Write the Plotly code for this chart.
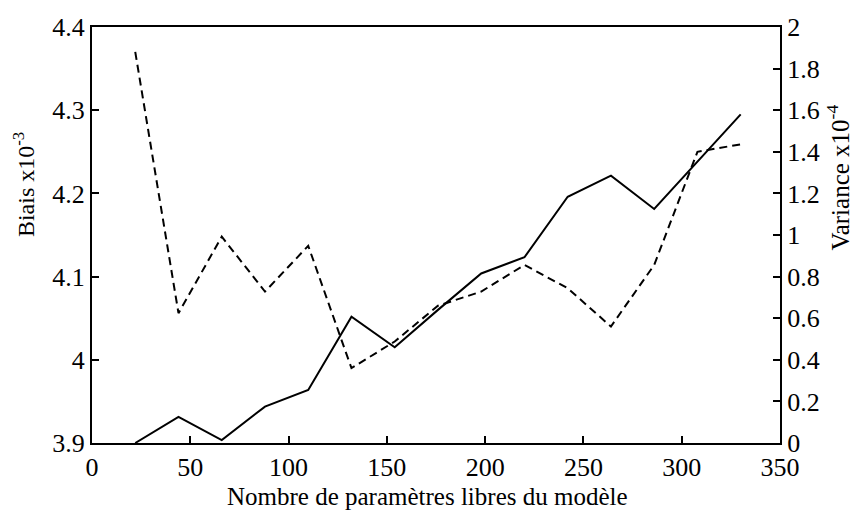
import plotly.graph_objects as go

# Data
n_params = [22, 44, 66, 88, 110, 132, 154, 176, 198, 220, 242, 264, 286, 308, 330]
biais = [4.370, 4.056, 4.148, 4.082, 4.137, 3.990, 4.022, 4.065, 4.082, 4.114,
         4.086, 4.040, 4.114, 4.250, 4.259]
variance = [0.0, 0.126, 0.014, 0.175, 0.255, 0.607, 0.46, 0.64, 0.815, 0.893,
            1.184, 1.285, 1.125, 1.35, 1.58]

x_ticks = [0, 50, 100, 150, 200, 250, 300, 350]
left_ticks = [3.9, 4.0, 4.1, 4.2, 4.3, 4.4]
right_ticks = [0, 0.2, 0.4, 0.6, 0.8, 1, 1.2, 1.4, 1.6, 1.8, 2]

FONT = "Liberation Serif, Times New Roman, serif"
TICKFONT = dict(family=FONT, size=26, color="black")

fig = go.Figure()
fig.add_trace(go.Scatter(
    x=n_params, y=biais, mode="lines", yaxis="y",
    line=dict(color="black", width=2, dash="8px,5px"), name="Biais"))
fig.add_trace(go.Scatter(
    x=n_params, y=variance, mode="lines", yaxis="y2",
    line=dict(color="black", width=2), name="Variance"))

fig.update_layout(
    width=854, height=510,
    margin=dict(l=92, r=74, t=27, b=67, autoexpand=False),
    paper_bgcolor="white", plot_bgcolor="white",
    showlegend=False,
    font=dict(family=FONT, size=22, color="black"),
    xaxis=dict(
        range=[0, 350], tickvals=x_ticks, ticks="inside", ticklen=7,
        tickwidth=2, tickcolor="black", tickfont=TICKFONT,
        showline=True, linecolor="black", linewidth=2, mirror=True,
        showgrid=False, zeroline=False, automargin=False,
    ),
    yaxis=dict(
        range=[3.9, 4.4], tickvals=left_ticks, ticks="inside", ticklen=7,
        tickwidth=2, tickcolor="black", tickfont=TICKFONT,
        showline=True, linecolor="black", linewidth=2,
        showgrid=False, zeroline=False, automargin=False,
    ),
    yaxis2=dict(
        range=[0, 2], tickvals=right_ticks, overlaying="y", side="right",
        ticks="inside", ticklen=7, tickwidth=2, tickcolor="black",
        tickfont=TICKFONT,
        showline=True, linecolor="black", linewidth=2,
        showgrid=False, zeroline=False, automargin=False,
    ),
    annotations=[
        dict(text="Nombre de paramètres libres du modèle", xref="paper", yref="paper",
             x=0.4876, y=-0.1298, showarrow=False,
             font=dict(family=FONT, size=25, color="black"),
             xanchor="center", yanchor="middle"),
        dict(text="Biais x10<sup>-3</sup>", xref="paper", yref="paper",
             x=-0.0988, y=0.620, showarrow=False, textangle=-90,
             font=dict(family=FONT, size=24, color="black"),
             xanchor="center", yanchor="middle"),
        dict(text="Variance x10<sup>-4</sup>", xref="paper", yref="paper",
             x=1.0843, y=0.638, showarrow=False, textangle=-90,
             font=dict(family=FONT, size=25, color="black"),
             xanchor="center", yanchor="middle"),
    ],
)

fig.write_html("out.html", config={"displayModeBar": False},
               post_script="document.body.style.margin='0';document.body.style.padding='0';")
